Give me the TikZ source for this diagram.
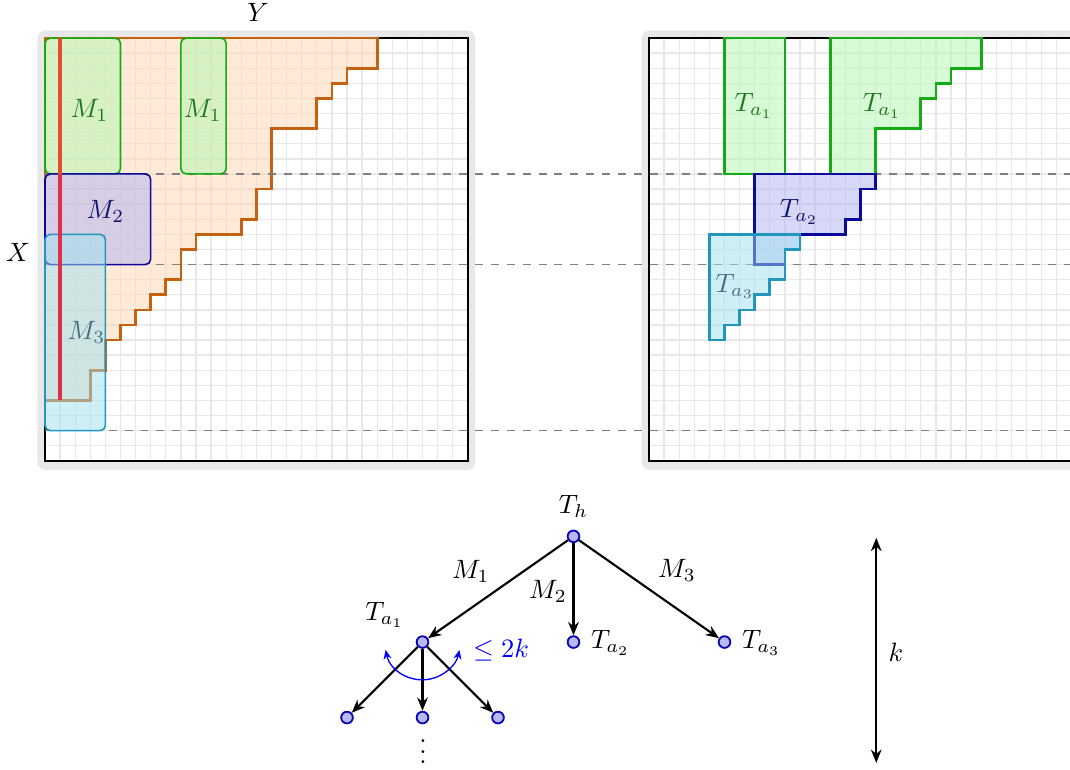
\documentclass[tikz,border=0pt]{standalone}
\usepackage{amsmath,amssymb}
\usepackage{tikz}
\usetikzlibrary{positioning,arrows.meta}
\definecolor{bordenaranja}{RGB}{196,98,16}
\definecolor{rellenonaranja}{RGB}{255,215,177}
\definecolor{bordeverde}{RGB}{20,172,20}
\definecolor{rellenoverde}{RGB}{177,249,177}
\definecolor{textoverde}{RGB}{30,120,30}
\definecolor{bordeazul}{RGB}{10,10,160}
\definecolor{rellenoazul}{RGB}{177,177,241}
\definecolor{textoazul}{RGB}{20,20,110}
\definecolor{bordecian}{RGB}{35,150,190}
\definecolor{rellenocian}{RGB}{161,225,241}
\definecolor{textocian}{RGB}{75,110,135}
\definecolor{rojoa}{RGB}{224,80,48}
\definecolor{rojob}{RGB}{222,48,74}
\definecolor{nodorelleno}{RGB}{185,185,240}
\definecolor{nodoborde}{RGB}{10,10,180}

\begin{document}
\begin{tikzpicture}[x=0.2cm, y=-0.2cm,
  rejilla/.style={draw=gray!18, line width=0.5pt},
  borde/.style={draw=black, line width=0.9pt},
  guia/.style={draw=gray, dashed, line width=0.5pt},
  zona/.style={fill opacity=0.5, line width=1pt, line join=miter},
  caja/.style={fill opacity=0.5, line width=0.6pt, rounded corners=2pt},
  vertice/.style={circle, draw=nodoborde, fill=nodorelleno, line width=0.7pt,
                  inner sep=0pt, minimum size=4.4pt},
  flecha/.style={-{Stealth[length=5pt,width=4pt]}, line width=0.8pt},
  curva/.style={{Stealth[length=3.5pt,width=3pt]}-{Stealth[length=3.5pt,width=3pt]},
                draw=blue, line width=0.5pt}]
  \useasboundingbox (-2.98,-2.52) rectangle (67.88,48.41);
  % Cuadros con rejilla
  \foreach \dx in {0,40}{
    \fill[gray!18, rounded corners=3pt] (\dx-0.5,-0.5) rectangle (\dx+28.5,28.6);
    \fill[white] (\dx,0) rectangle (\dx+28,28);
    \foreach \i in {1,...,27}{
      \draw[rejilla] (\dx+\i,0) -- (\dx+\i,28);
      \draw[rejilla] (\dx,\i) -- (\dx+28,\i);
    }
    \draw[borde] (\dx,0) rectangle (\dx+28,28);
  }
  % Escalera de la izquierda
  \draw[zona, draw=bordenaranja, fill=rellenonaranja] (0,0) -- (22,0) -- (22,2)
    -- (20,2) -- (20,3) -- (19,3) -- (19,4) -- (18,4) -- (18,6) -- (15,6)
    -- (15,10) -- (14,10) -- (14,12) -- (13,12) -- (13,13) -- (10,13)
    -- (10,14) -- (9,14) -- (9,16) -- (8,16) -- (8,17) -- (7,17) -- (7,18)
    -- (6,18) -- (6,19) -- (5,19) -- (5,20) -- (4,20) -- (4,22) -- (3,22)
    -- (3,24) -- (0,24) -- cycle;
  % Lineas guia
  \foreach \r in {9,15,26}
    \draw[guia] (0,\r) -- (69,\r);
  % Bloques M
  \draw[caja, draw=bordeverde, fill=rellenoverde] (0,0) rectangle (5,9);
  \draw[caja, draw=bordeverde, fill=rellenoverde] (9,0) rectangle (12,9);
  \draw[caja, draw=bordeazul, fill=rellenoazul] (0,9) rectangle (7,15);
  \draw[caja, draw=bordecian, fill=rellenocian] (0,13) rectangle (4,26);
  \draw[rojoa, line width=1.6pt] (1,0) -- (1,9);
  \draw[rojob, line width=1.6pt] (1,9) -- (1,24);
  \node[text=textoverde] (m1a) at (2.95,4.8) {$M_1$};
  \node[text=textoverde] (m1b) at (10.45,4.8) {$M_1$};
  \node[text=textoazul] (m2) at (4.0,11.5) {$M_2$};
  \node[text=textocian] (m3) at (2.75,19.5) {$M_3$};
  \node (ylab) at (14.1,-1.72) {$Y$};
  \node (xlab) at (-1.79,14.17) {$X$};
  % Bloques T
  \draw[zona, draw=bordeverde, fill=rellenoverde] (45,0) rectangle (49,9);
  \draw[zona, draw=bordeverde, fill=rellenoverde] (52,0) -- (62,0) -- (62,2)
    -- (60,2) -- (60,3) -- (59,3) -- (59,4) -- (58,4) -- (58,6) -- (55,6)
    -- (55,9) -- (52,9) -- cycle;
  \draw[zona, draw=bordeazul, fill=rellenoazul] (47,9) -- (55,9) -- (55,10)
    -- (54,10) -- (54,12) -- (53,12) -- (53,13) -- (50,13) -- (50,14)
    -- (49,14) -- (49,15) -- (47,15) -- cycle;
  \draw[zona, draw=bordecian, fill=rellenocian] (44,13) -- (50,13) -- (50,14)
    -- (49,14) -- (49,16) -- (48,16) -- (48,17) -- (47,17) -- (47,18)
    -- (46,18) -- (46,19) -- (45,19) -- (45,20) -- (44,20) -- cycle;
  \node[text=textoverde] (ta1r) at (46.95,4.5) {$T_{a_1}$};
  \node[text=textoverde] (ta1s) at (55.45,4.5) {$T_{a_1}$};
  \node[text=textoazul] (ta2r) at (49.95,11.5) {$T_{a_2}$};
  \node[text=textocian] (ta3r) at (45.7,16.45) {$T_{a_3}$};
  % Arbol
  \node[vertice] (th) at (35,33) {};
  \node[vertice] (ta1) at (25,40) {};
  \node[vertice] (ta2) at (35,40) {};
  \node[vertice] (ta3) at (45,40) {};
  \node[vertice] (h1) at (20,45) {};
  \node[vertice] (h2) at (25,45) {};
  \node[vertice] (h3) at (30,45) {};
  \node (lth) at (35,31.05) {$T_h$};
  \node (lta1) at (22.5,38.2) {$T_{a_1}$};
  \node (lta2) at (37.45,40.05) {$T_{a_2}$};
  \node (lta3) at (47.45,40.05) {$T_{a_3}$};
  \node (puntos) at (25.03,46.75) {$\vdots$};
  \draw[flecha] (th) -- (ta1);
  \draw[flecha] (th) -- (ta2);
  \draw[flecha] (th) -- (ta3);
  \draw[flecha] (ta1) -- (h1);
  \draw[flecha] (ta1) -- (h2);
  \draw[flecha] (ta1) -- (h3);
  \node (em1) at (28.2,35.35) {$M_1$};
  \node (em2) at (33.3,36.65) {$M_2$};
  \node (em3) at (41.85,35.25) {$M_3$};
  \draw[curva] ([shift={(192:0.5cm)}]ta1.center) arc (192:348:0.5cm);
  \node[text=blue] (grado) at (30.2,40.55) {$\le 2k$};
  % Altura
  \coordinate (ktop) at (55.05,33.1);
  \coordinate (kbot) at (55.05,48.0);
  \draw[{Stealth[length=5pt,width=4pt]}-{Stealth[length=5pt,width=4pt]}, line width=0.8pt]
    (ktop) -- (kbot);
  \node (lk) at (56.35,40.65) {$k$};
\end{tikzpicture}
\end{document}
